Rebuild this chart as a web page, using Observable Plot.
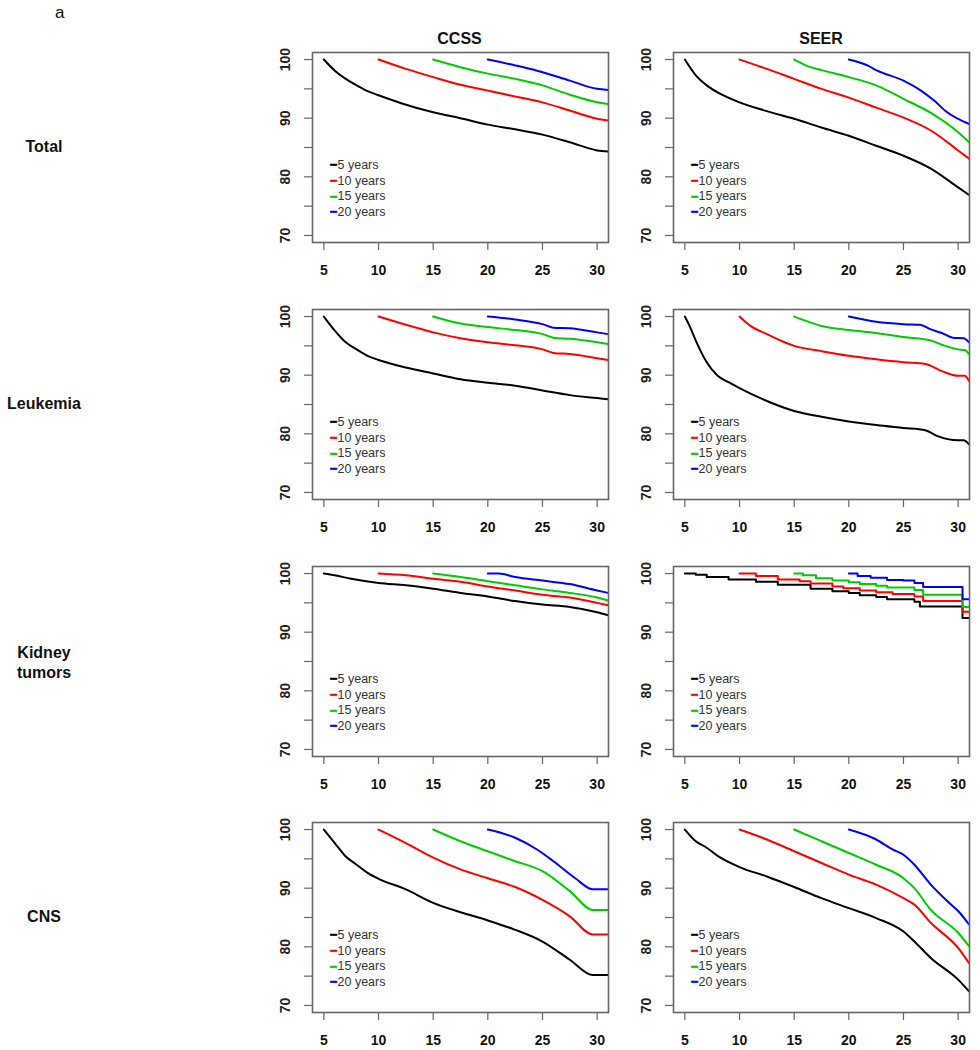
<!DOCTYPE html>
<html>
<head>
<meta charset="utf-8">
<script src="https://cdn.jsdelivr.net/npm/d3@7"></script>
<script src="https://cdn.jsdelivr.net/npm/@observablehq/plot@0.6"></script>
<style>
  html, body { margin: 0; padding: 0; background: #fff; }
  #root { position: relative; width: 980px; height: 1050px; font-family: "Liberation Sans", Arial, sans-serif; color: #111; }
  .abs { position: absolute; }
  .panel-tag { font-size: 17px; }
  .col-title { font-size: 16px; font-weight: bold; text-align: center; width: 296px; line-height: 18px; }
  .row-title { font-size: 16px; font-weight: bold; text-align: center; width: 100px; line-height: 20px; }
</style>
</head>
<body>
<div id="root"></div>
<script>
// ---------- labels ----------
const panelTag = "a";
const colTitles = ["CCSS", "SEER"];
const rowTitles = ["Total", "Leukemia", "Kidney\ntumors", "CNS"];
const seriesLabels = ["5 years", "10 years", "15 years", "20 years"];
const seriesColors = ["#000000", "#FF0000", "#00CD00", "#0000FF"];
const xTicks = [5, 10, 15, 20, 25, 30];
const yTicks = [70, 75, 80, 85, 90, 95, 100];
const yTickLabels = [70, 80, 90, 100];

// ---------- data: [years since diagnosis, % survival] ----------
const ccssTotal5  = [[5,100],[6,98.1],[7,96.7],[8,95.6],[9,94.6],[10,93.9],[12,92.6],[15,91.0],[17.5,90.0],[20,88.9],[22.5,88.1],[25,87.2],[27.5,85.9],[30,84.5],[31,84.3]];
const ccssTotal10 = [[10,100],[12.5,98.4],[15,97.0],[17.5,95.7],[20,94.7],[22.5,93.7],[25,92.7],[27.5,91.3],[30,89.9],[31,89.6]];
const ccssTotal15 = [[15,100],[17.5,98.7],[20,97.6],[22.5,96.7],[25,95.6],[27.5,94.0],[30,92.7],[31,92.4]];
const ccssTotal20 = [[20,100],[22.5,99.0],[24.5,98.1],[27.5,96.4],[30,95.0],[31,94.8]];

const seerTotal5  = [[5,100],[6,97.3],[7,95.6],[8,94.4],[10,92.7],[12.5,91.2],[15,89.9],[17.5,88.4],[20,87.0],[22.5,85.3],[25,83.6],[27.5,81.4],[30,78.2],[31,76.9]];
const seerTotal10 = [[10,100],[12.5,98.4],[15,96.7],[17.5,95.0],[20,93.5],[22.5,91.8],[25,90.1],[27.5,87.9],[30,84.5],[31,83.1]];
const seerTotal15 = [[15,100],[16.5,98.7],[17.5,98.2],[20,97.0],[22.5,95.6],[25,93.3],[27.5,90.9],[30,87.6],[31,85.9]];
const seerTotal20 = [[20,100],[21.7,99.0],[22.6,98.1],[25,96.4],[26.6,94.7],[27.8,93.0],[29,91.0],[31,89.0]];

const ccssLeuk5  = [[5,100],[6,97.6],[7,95.6],[8,94.4],[9,93.3],[10,92.6],[12.5,91.3],[15,90.3],[17.5,89.3],[20,88.7],[22.5,88.2],[25,87.4],[27.5,86.6],[30,86.1],[31,85.9]];
const ccssLeuk10 = [[10,100],[12.5,98.6],[15,97.3],[17.5,96.3],[20,95.6],[22.5,95.1],[25,94.4],[26,93.8],[27.5,93.6],[30,92.9],[31,92.6]];
const ccssLeuk15 = [[15,100],[17.5,98.8],[20,98.2],[22.5,97.7],[25,97.0],[26,96.4],[27.5,96.2],[30,95.6],[31,95.3]];
const ccssLeuk20 = [[20,100],[22.5,99.5],[25,98.7],[26,98.1],[27.5,98.0],[30,97.3],[31,97.0]];

const seerLeuk5  = [[5,100],[5.5,98.1],[6,95.9],[7,92.2],[8,89.9],[9,88.8],[10,87.8],[12.5,85.6],[15,83.9],[17.5,82.9],[20,82.1],[22.5,81.5],[25,81.0],[27,80.6],[28,79.7],[30,78.9],[30.5,78.9],[31,78.2]];
const seerLeuk10 = [[10,100],[11,98.4],[12.5,97.0],[14,95.7],[15,95.0],[17.5,94.1],[20,93.3],[22.5,92.7],[25,92.2],[27,91.9],[28.5,90.7],[30,89.9],[30.6,89.9],[31,89.0]];
const seerLeuk15 = [[15,100],[16,99.3],[17.5,98.4],[20,97.7],[22.5,97.2],[25,96.5],[27.5,95.9],[28.5,95.2],[30,94.4],[30.6,94.3],[31,93.6]];
const seerLeuk20 = [[20,100],[22.5,99.1],[25,98.7],[26.5,98.6],[27.5,97.8],[28.5,97.2],[29.5,96.4],[30.5,96.3],[31,95.6]];

const ccssKid5  = [[5,100],[6,99.7],[7.5,99.1],[10,98.4],[12.5,98.0],[15,97.4],[17.5,96.7],[20,96.1],[22.5,95.3],[25,94.7],[27.5,94.3],[30,93.4],[31,92.9]];
const ccssKid10 = [[10,100],[12.5,99.7],[15,99.1],[17.5,98.6],[20,97.8],[22.5,97.1],[25,96.4],[27.5,95.9],[30,95.0],[31,94.6]];
const ccssKid15 = [[15,100],[17.5,99.4],[20,98.7],[22.5,98.0],[25,97.3],[27.5,96.7],[30,95.9],[31,95.4]];
const ccssKid20 = [[20,100],[21,100],[22.5,99.4],[25,98.8],[27.5,98.2],[30,97.1],[31,96.7]];

// SEER kidney tumors: step curves
const seerKid5  = [[5,100],[6,99.8],[7,99.4],[9,99.0],[11.5,98.6],[13.5,98.1],[16.5,97.4],[18.5,97.0],[20,96.7],[21,96.3],[22.5,96.0],[23.5,95.6],[26,95.2],[26.5,94.4],[30.4,92.4],[31,92.4]];
const seerKid10 = [[10,100],[11.5,99.6],[13.5,99.0],[15.5,98.7],[16.5,98.3],[18.5,97.8],[19.5,97.5],[21,97.1],[22.5,96.8],[24,96.5],[26,96.1],[26.8,95.3],[30.4,93.5],[31,93.5]];
const seerKid15 = [[15,100],[15.8,99.7],[17,99.2],[18.5,98.8],[20,98.5],[21,98.2],[22.5,97.9],[23.5,97.6],[26,97.2],[26.8,96.4],[30.4,94.3],[31,94.3]];
const seerKid20 = [[20,100],[20.8,99.6],[22,99.3],[23.5,98.9],[25,98.8],[26,98.4],[26.8,97.7],[30.4,95.6],[31,95.6]];

const ccssCns5  = [[5,100],[6,97.7],[7,95.4],[8,94.0],[9,92.6],[10,91.6],[12.5,89.8],[15,87.5],[17.5,85.9],[20,84.5],[22.5,82.9],[25,80.9],[27.5,77.8],[29.6,75.2],[31,75.2]];
const ccssCns10 = [[10,100],[12.5,97.7],[15,95.2],[17.5,93.2],[20,91.7],[22.5,90.2],[25,88.0],[27.5,85.2],[29.6,82.1],[31,82.1]];
const ccssCns15 = [[15,100],[17.5,98.0],[20,96.3],[22.5,94.6],[25,92.9],[27.5,89.5],[29.6,86.3],[31,86.3]];
const ccssCns20 = [[20,100],[22.5,98.6],[24.5,96.6],[26,94.6],[28,91.7],[29.6,89.8],[31,89.8]];

const seerCns5  = [[5,100],[6,98.0],[7,96.9],[8,95.5],[10,93.6],[12.5,92.0],[15,90.2],[17.5,88.3],[20,86.6],[22.5,84.9],[25,82.6],[26,80.9],[27.5,78.1],[30,74.4],[31,72.4]];
const seerCns10 = [[10,100],[12.5,98.3],[15,96.3],[17.5,94.3],[20,92.3],[22.5,90.6],[25,88.3],[26,87.2],[27.5,84.1],[30,79.8],[31,77.2]];
const seerCns15 = [[15,100],[17.5,98.0],[20,96.0],[22.5,94.0],[25,91.7],[26,90.0],[27.5,86.3],[30,82.4],[31,80.1]];
const seerCns20 = [[20,100],[22.5,98.3],[24,96.6],[25,95.7],[26,94.0],[27.5,90.6],[29,87.8],[30,86.1],[31,83.8]];

const panels = [
  {row: 0, col: 0, series: [ccssTotal5, ccssTotal10, ccssTotal15, ccssTotal20], curve: "monotone-x"},
  {row: 0, col: 1, series: [seerTotal5, seerTotal10, seerTotal15, seerTotal20], curve: "monotone-x"},
  {row: 1, col: 0, series: [ccssLeuk5, ccssLeuk10, ccssLeuk15, ccssLeuk20], curve: "monotone-x"},
  {row: 1, col: 1, series: [seerLeuk5, seerLeuk10, seerLeuk15, seerLeuk20], curve: "monotone-x"},
  {row: 2, col: 0, series: [ccssKid5, ccssKid10, ccssKid15, ccssKid20], curve: "monotone-x"},
  {row: 2, col: 1, series: [seerKid5, seerKid10, seerKid15, seerKid20], curve: "step-after"},
  {row: 3, col: 0, series: [ccssCns5, ccssCns10, ccssCns15, ccssCns20], curve: "monotone-x"},
  {row: 3, col: 1, series: [seerCns5, seerCns10, seerCns15, seerCns20], curve: "monotone-x"}
];

// ---------- layout ----------
const FRAME_W = 296, FRAME_H = 190;
const colLeft = [311.5, 673];
const rowTop0 = 52.3, rowStep = 256.6;
const M = {top: 8, right: 8, bottom: 42, left: 52};

const root = document.getElementById("root");
function addDiv(cls, text, left, top) {
  const d = document.createElement("div");
  d.className = "abs " + cls;
  d.style.left = left + "px";
  d.style.top = top + "px";
  d.innerHTML = text.split("\n").join("<br>");
  root.appendChild(d);
  return d;
}

addDiv("panel-tag", panelTag, 55, 3);
colTitles.forEach((t, c) => addDiv("col-title", t, colLeft[c], 30));
rowTitles.forEach((t, r) => {
  const lines = t.split("\n").length;
  const center = rowTop0 + r * rowStep + FRAME_H / 2 + (r === 2 ? 2 : 0);
  addDiv("row-title", t, -6, center - lines * 10);
});

function makePanel(p) {
  const rows = [];
  p.series.forEach((s, i) => s.forEach(([x, y]) => rows.push({x, y, s: i})));
  const legendMarks = [];
  seriesLabels.forEach((lab, i) => {
    const dy = 112.7 + i * 15.6;
    legendMarks.push(Plot.text([lab], {
      text: d => d, frameAnchor: "top-left", dx: 25, dy,
      textAnchor: "start", lineAnchor: "middle",
      fontSize: 12.5, fontWeight: "normal", fill: "#333"
    }));
    legendMarks.push(Plot.text(["\u2212"], {
      text: d => d, frameAnchor: "top-left", dx: 21, dy,
      textAnchor: "middle", lineAnchor: "middle",
      fontSize: 13, fontWeight: "bold", fill: seriesColors[i],
      stroke: seriesColors[i], strokeWidth: 0.6
    }));
  });
  const chart = Plot.plot({
    width: M.left + FRAME_W + M.right,
    height: M.top + FRAME_H + M.bottom,
    marginTop: M.top, marginRight: M.right, marginBottom: M.bottom, marginLeft: M.left,
    style: {fontFamily: "'Liberation Sans', Arial, sans-serif", fontSize: "14px", fontWeight: "bold", background: "transparent", overflow: "visible"},
    x: {domain: [3.96, 31.04]},
    y: {domain: [68.8, 101.2]},
    color: {type: "identity"},
    marks: [
      Plot.axisX({ticks: xTicks, tickSize: 8, tickPadding: 15, label: null, stroke: "#666", strokeWidth: 1.2, fontSize: 14}),
      Plot.axisY({ticks: yTicks, tickSize: 8, tickFormat: () => "", label: null, stroke: "#666", strokeWidth: 1.2}),
      Plot.text(yTickLabels, {
        y: d => d, text: d => String(d), frameAnchor: "left", dx: -27,
        rotate: -90, textAnchor: "middle", lineAnchor: "middle", fontSize: 14, fontWeight: "bold", fill: "#222"
      }),
      Plot.line(rows, {x: "x", y: "y", z: "s", stroke: d => seriesColors[d.s], strokeWidth: 2, curve: p.curve}),
      ...legendMarks,
      Plot.frame({stroke: "#666", strokeWidth: 1.6})
    ]
  });
  chart.style.position = "absolute";
  chart.style.left = (colLeft[p.col] - M.left) + "px";
  chart.style.top = (rowTop0 + p.row * rowStep - M.top) + "px";
  root.appendChild(chart);
}

panels.forEach(makePanel);
</script>
</body>
</html>
